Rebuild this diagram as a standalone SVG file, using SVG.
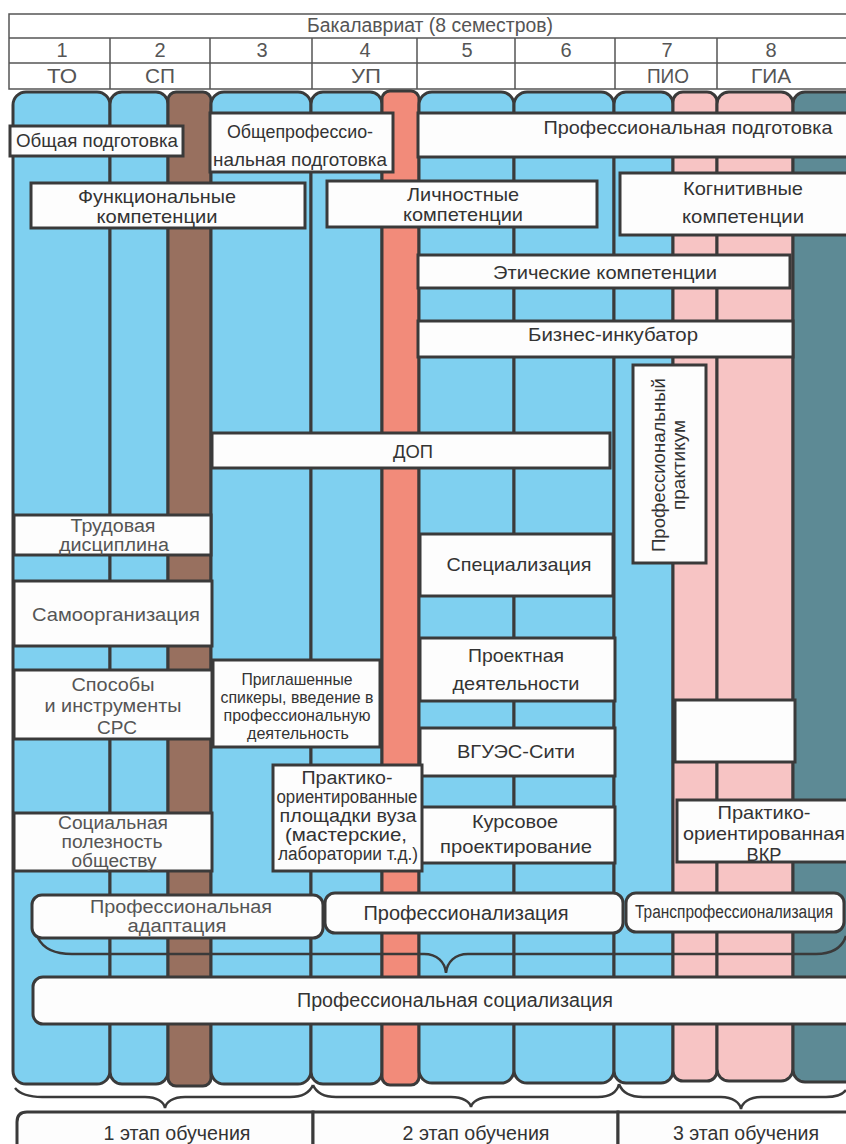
<svg xmlns="http://www.w3.org/2000/svg" width="846" height="1144" viewBox="0 0 846 1144">
<style>
.box{fill:#fdfdfd;stroke:#3a3a3a;stroke-width:3}
.col{stroke:#3a3a3a;stroke-width:3}
.blue{fill:#7FD0F0}
.brown{fill:#98705F}
.salmon{fill:#F28B7A}
.pink{fill:#F7C4C4}
.teal{fill:#5D8A95}
.t{font-family:"Liberation Sans",Arial,sans-serif;font-size:19px;fill:#333;text-anchor:middle}
.s{font-size:18px}
.xs{font-size:17px}
.l{font-size:20px}
.g{fill:#555}
.hl{stroke:#555;stroke-width:1.5;fill:none}
.brace{fill:none;stroke:#3a3a3a;stroke-width:2.5}
</style>
<rect x="0" y="0" width="846" height="1144" fill="#ffffff"/>

<g id="header">
<rect x="9" y="14" width="845" height="75" fill="#fff" class="hl"/>
<line x1="9" y1="38" x2="846" y2="38" class="hl"/>
<line x1="9" y1="63" x2="846" y2="63" class="hl"/>
<line x1="110" y1="38" x2="110" y2="89" class="hl"/>
<line x1="210" y1="38" x2="210" y2="89" class="hl"/>
<line x1="312" y1="38" x2="312" y2="89" class="hl"/>
<line x1="417" y1="38" x2="417" y2="89" class="hl"/>
<line x1="515" y1="38" x2="515" y2="89" class="hl"/>
<line x1="615" y1="38" x2="615" y2="89" class="hl"/>
<line x1="717" y1="38" x2="717" y2="89" class="hl"/>
<text class="t l g" x="430" y="32" textLength="246" lengthAdjust="spacingAndGlyphs">Бакалавриат (8 семестров)</text>
<text class="t l g" x="62" y="57">1</text>
<text class="t l g" x="160" y="57">2</text>
<text class="t l g" x="262" y="57">3</text>
<text class="t l g" x="365" y="57">4</text>
<text class="t l g" x="467" y="57">5</text>
<text class="t l g" x="566" y="57">6</text>
<text class="t l g" x="667" y="57">7</text>
<text class="t l g" x="771" y="57">8</text>
<text class="t l g" x="62" y="83" textLength="30" lengthAdjust="spacingAndGlyphs">ТО</text>
<text class="t l g" x="160" y="83" textLength="30" lengthAdjust="spacingAndGlyphs">СП</text>
<text class="t l g" x="366" y="83" textLength="30" lengthAdjust="spacingAndGlyphs">УП</text>
<text class="t l g" x="668" y="83" textLength="42" lengthAdjust="spacingAndGlyphs">ПИО</text>
<text class="t l g" x="771" y="83" textLength="40" lengthAdjust="spacingAndGlyphs">ГИА</text>
</g>

<g id="columns">
<rect class="col blue" x="13" y="92" width="97" height="992" rx="13"/>
<rect class="col blue" x="110" y="92" width="58" height="992" rx="12"/>
<rect class="col brown" x="168" y="92" width="43" height="994" rx="8"/>
<rect class="col blue" x="211" y="92" width="100" height="992" rx="13"/>
<rect class="col blue" x="311" y="92" width="71" height="992" rx="12"/>
<rect class="col salmon" x="382" y="91" width="37" height="994" rx="8"/>
<rect class="col blue" x="419" y="92" width="95" height="991" rx="13"/>
<rect class="col blue" x="514" y="92" width="100" height="991" rx="13"/>
<rect class="col blue" x="614" y="92" width="59" height="991" rx="12"/>
<rect class="col pink" x="673" y="92" width="44" height="989" rx="10"/>
<rect class="col pink" x="717" y="92" width="76" height="989" rx="12"/>
<rect class="col teal" x="793" y="92" width="70" height="990" rx="12"/>
</g>

<g id="connectors">
<path class="brace" d="M38 938 C44 950 56 954 72 954 L424 954 C437 954 445 962 446 973 C447 962 455 954 468 954 L816 954 C832 954 842 948 846 936"/>
<path class="brace" d="M15 1088 C20 1094 28 1097 42 1097 L145 1097 C157 1097 164 1102 165 1108 C166 1102 173 1097 185 1097 L290 1097 C303 1097 310 1092 313 1085"/>
<path class="brace" d="M313 1085 C316 1092 323 1097 336 1097 L451 1097 C463 1097 470 1102 471 1107 C472 1102 479 1097 491 1097 L598 1097 C610 1097 617 1092 619 1084"/>
<path class="brace" d="M619 1084 C622 1092 630 1097 643 1097 L721 1097 C733 1097 740 1103 741 1109 C742 1103 749 1097 761 1097 L826 1097 C837 1097 843 1094 846 1090"/>
</g>

<g id="n-obshchaya">
<rect class="box" x="10" y="126" width="173" height="30"/>
<text class="t" x="97" y="147" textLength="162" lengthAdjust="spacingAndGlyphs">Общая подготовка</text>
</g>
<g id="n-obshcheprof">
<rect class="box" x="210" y="113" width="183" height="59"/>
<text class="t" x="300" y="138" textLength="146" lengthAdjust="spacingAndGlyphs">Общепрофессио-</text>
<text class="t" x="300" y="166" textLength="174" lengthAdjust="spacingAndGlyphs">нальная подготовка</text>
</g>
<g id="n-prof">
<rect class="box" x="418" y="113" width="432" height="44"/>
<text class="t" x="688" y="134" textLength="289" lengthAdjust="spacingAndGlyphs">Профессиональная подготовка</text>
</g>
<g id="n-func">
<rect class="box" x="31" y="183" width="274" height="45"/>
<text class="t" x="157" y="203" textLength="158" lengthAdjust="spacingAndGlyphs">Функциональные</text>
<text class="t" x="157" y="223" textLength="121" lengthAdjust="spacingAndGlyphs">компетенции</text>
</g>
<g id="n-lich">
<rect class="box" x="327" y="181" width="270" height="46"/>
<text class="t" x="463" y="201" textLength="112" lengthAdjust="spacingAndGlyphs">Личностные</text>
<text class="t" x="463" y="221" textLength="120" lengthAdjust="spacingAndGlyphs">компетенции</text>
</g>
<g id="n-kog">
<rect class="box" x="620" y="173" width="230" height="62"/>
<text class="t" x="743" y="195" textLength="120" lengthAdjust="spacingAndGlyphs">Когнитивные</text>
<text class="t" x="743" y="223" textLength="122" lengthAdjust="spacingAndGlyphs">компетенции</text>
</g>
<g id="n-eth">
<rect class="box" x="418" y="255" width="372" height="33"/>
<text class="t" x="605" y="279" textLength="224" lengthAdjust="spacingAndGlyphs">Этические компетенции</text>
</g>
<g id="n-biz">
<rect class="box" x="418" y="321" width="375" height="36"/>
<text class="t" x="613" y="341" textLength="170" lengthAdjust="spacingAndGlyphs">Бизнес-инкубатор</text>
</g>
<g id="n-praktikum">
<rect class="box" x="633" y="365" width="73" height="198"/>
<text class="t s" transform="translate(665,465) rotate(-90)" x="0" y="0" textLength="174" lengthAdjust="spacingAndGlyphs">Профессиональный</text>
<text class="t s" transform="translate(685,465) rotate(-90)" x="0" y="0" textLength="90" lengthAdjust="spacingAndGlyphs">практикум</text>
</g>
<g id="n-dop">
<rect class="box" x="212" y="433" width="398" height="35"/>
<text class="t" x="413" y="458" textLength="40" lengthAdjust="spacingAndGlyphs">ДОП</text>
</g>
<g id="n-trud">
<rect class="box" x="14" y="515" width="197" height="40"/>
<text class="t s g" x="113" y="532" textLength="85" lengthAdjust="spacingAndGlyphs">Трудовая</text>
<text class="t s g" x="114" y="551" textLength="110" lengthAdjust="spacingAndGlyphs">дисциплина</text>
</g>
<g id="n-samo">
<rect class="box" x="14" y="581" width="198" height="65"/>
<text class="t g" x="116" y="621" textLength="168" lengthAdjust="spacingAndGlyphs">Самоорганизация</text>
</g>
<g id="n-spec">
<rect class="box" x="420" y="534" width="193" height="62"/>
<text class="t" x="519" y="571" textLength="145" lengthAdjust="spacingAndGlyphs">Специализация</text>
</g>
<g id="n-proj">
<rect class="box" x="420" y="638" width="195" height="63"/>
<text class="t" x="516" y="662" textLength="96" lengthAdjust="spacingAndGlyphs">Проектная</text>
<text class="t" x="516" y="690" textLength="127" lengthAdjust="spacingAndGlyphs">деятельности</text>
</g>
<g id="n-vgues">
<rect class="box" x="420" y="728" width="195" height="48"/>
<text class="t" x="516" y="758" textLength="118" lengthAdjust="spacingAndGlyphs">ВГУЭС-Сити</text>
</g>
<g id="n-kurs">
<rect class="box" x="420" y="807" width="195" height="56"/>
<text class="t" x="515" y="828" textLength="86" lengthAdjust="spacingAndGlyphs">Курсовое</text>
<text class="t" x="516" y="853" textLength="152" lengthAdjust="spacingAndGlyphs">проектирование</text>
</g>
<g id="n-empty">
<rect class="box" x="675" y="700" width="120" height="62"/>
</g>
<g id="n-vkr">
<rect class="box" x="677" y="800" width="173" height="62"/>
<text class="t" x="764" y="819" textLength="93" lengthAdjust="spacingAndGlyphs">Практико-</text>
<text class="t" x="764" y="840" textLength="162" lengthAdjust="spacingAndGlyphs">ориентированная</text>
<text class="t" x="764" y="861" textLength="35" lengthAdjust="spacingAndGlyphs">ВКР</text>
</g>
<g id="n-prig">
<rect class="box" x="213" y="660" width="167" height="87"/>
<text class="t xs" x="297" y="685" textLength="111" lengthAdjust="spacingAndGlyphs">Приглашенные</text>
<text class="t xs" x="297" y="703" textLength="153" lengthAdjust="spacingAndGlyphs">спикеры, введение в</text>
<text class="t xs" x="297" y="721" textLength="147" lengthAdjust="spacingAndGlyphs">профессиональную</text>
<text class="t xs" x="298" y="739" textLength="102" lengthAdjust="spacingAndGlyphs">деятельность</text>
</g>
<g id="n-plosh">
<rect class="box" x="273" y="765" width="149" height="106"/>
<text class="t s" x="347" y="784" textLength="91" lengthAdjust="spacingAndGlyphs">Практико-</text>
<text class="t s" x="347" y="803" textLength="141" lengthAdjust="spacingAndGlyphs">ориентированные</text>
<text class="t s" x="348" y="822" textLength="137" lengthAdjust="spacingAndGlyphs">площадки вуза</text>
<text class="t s" x="346" y="841" textLength="122" lengthAdjust="spacingAndGlyphs">(мастерские,</text>
<text class="t s" x="348" y="860" textLength="140" lengthAdjust="spacingAndGlyphs">лаборатории т.д.)</text>
</g>
<g id="n-spos">
<rect class="box" x="14" y="670" width="198" height="69"/>
<text class="t g" x="113" y="691" textLength="83" lengthAdjust="spacingAndGlyphs">Способы</text>
<text class="t g" x="113" y="712" textLength="137" lengthAdjust="spacingAndGlyphs">и инструменты</text>
<text class="t g" x="117" y="734" textLength="40" lengthAdjust="spacingAndGlyphs">СРС</text>
</g>
<g id="n-soc">
<rect class="box" x="14" y="813" width="198" height="58"/>
<text class="t s g" x="113" y="829" textLength="110" lengthAdjust="spacingAndGlyphs">Социальная</text>
<text class="t s g" x="112" y="848" textLength="101" lengthAdjust="spacingAndGlyphs">полезность</text>
<text class="t s g" x="114" y="867" textLength="85" lengthAdjust="spacingAndGlyphs">обществу</text>
</g>
<g id="n-adapt">
<rect class="box" x="32" y="895" width="291" height="43" rx="10"/>
<text class="t s g" x="181" y="913" textLength="182" lengthAdjust="spacingAndGlyphs">Профессиональная</text>
<text class="t s g" x="177" y="932" textLength="99" lengthAdjust="spacingAndGlyphs">адаптация</text>
</g>
<g id="n-profz">
<rect class="box" x="325" y="893" width="298" height="40" rx="10"/>
<text class="t l" x="466" y="920" textLength="205" lengthAdjust="spacingAndGlyphs">Профессионализация</text>
</g>
<g id="n-trans">
<rect class="box" x="626" y="893" width="218" height="39" rx="10"/>
<text class="t s" x="734" y="918" textLength="198" lengthAdjust="spacingAndGlyphs">Транспрофессионализация</text>
</g>
<g id="n-socz">
<rect class="box" x="33" y="977" width="823" height="47" rx="10"/>
<text class="t l" x="455" y="1007" textLength="316" lengthAdjust="spacingAndGlyphs">Профессиональная социализация</text>
</g>
<g id="n-stage1">
<path class="box" d="M17 1160 L17 1122 Q17 1112 27 1112 L313 1112 L313 1160"/>
<text class="t l" x="177" y="1140" textLength="147" lengthAdjust="spacingAndGlyphs">1 этап обучения</text>
</g>
<g id="n-stage2">
<path class="box" d="M313 1160 L313 1112 L618 1112 L618 1160"/>
<text class="t l" x="476" y="1140" textLength="147" lengthAdjust="spacingAndGlyphs">2 этап обучения</text>
</g>
<g id="n-stage3">
<path class="box" d="M618 1160 L618 1112 L856 1112"/>
<text class="t l" x="746" y="1140" textLength="146" lengthAdjust="spacingAndGlyphs">3 этап обучения</text>
</g>
</svg>
